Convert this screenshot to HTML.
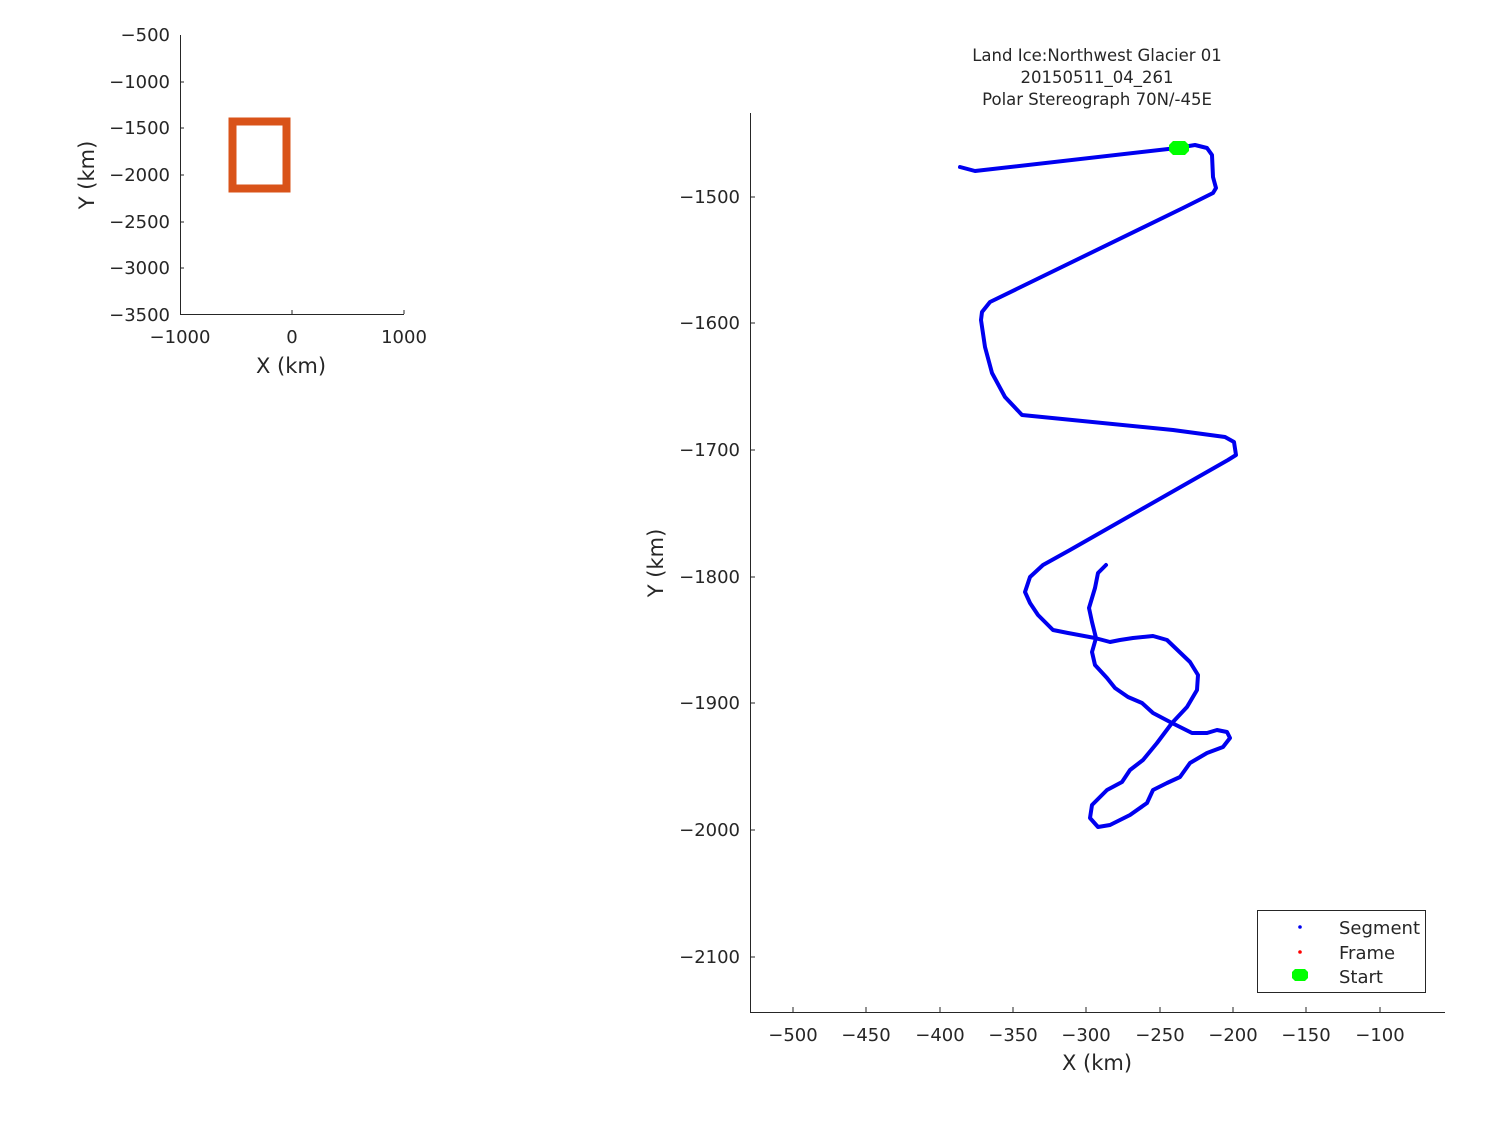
<!DOCTYPE html>
<html><head><meta charset="utf-8"><style>
body{margin:0;background:#fff}
svg text{font-family:"DejaVu Sans","Liberation Sans",sans-serif;fill:#262626}
</style></head><body>
<svg width="1500" height="1125" viewBox="0 0 1500 1125">
<rect width="1500" height="1125" fill="#fff"/>
<g stroke="#262626" stroke-width="1" fill="none">
<path d="M180.5 35V314.5H404"/>
<path d="M180 82h4M180 128h4M180 175h4M180 222h4M180 268h4M292 314v-4M404 314v-4"/>
</g>
<g font-size="18" text-anchor="end">
<text x="170" y="41">−500</text><text x="170" y="88">−1000</text><text x="170" y="134">−1500</text>
<text x="170" y="181">−2000</text><text x="170" y="228">−2500</text><text x="170" y="274">−3000</text><text x="170" y="321">−3500</text>
</g>
<g font-size="18" text-anchor="middle">
<text x="180" y="343">−1000</text><text x="292" y="343">0</text><text x="404" y="343">1000</text>
<text x="291" y="373" font-size="21">X (km)</text>
</g>
<text transform="translate(94,175) rotate(-90)" font-size="21" text-anchor="middle">Y (km)</text>
<rect x="232.5" y="121.5" width="54" height="67" fill="none" stroke="#D95319" stroke-width="8"/>
<g stroke="#262626" stroke-width="1" fill="none">
<path d="M750.5 113V1012.5H1445"/>
<path d="M750 197h5M750 323h5M750 450h5M750 577h5M750 703h5M750 830h5M750 957h5"/>
<path d="M793 1012v-5M866 1012v-5M940 1012v-5M1013 1012v-5M1086 1012v-5M1160 1012v-5M1233 1012v-5M1306 1012v-5M1380 1012v-5"/>
</g>
<g font-size="18" text-anchor="end">
<text x="740" y="203">−1500</text><text x="740" y="329">−1600</text><text x="740" y="456">−1700</text>
<text x="740" y="583">−1800</text><text x="740" y="709">−1900</text><text x="740" y="836">−2000</text><text x="740" y="963">−2100</text>
</g>
<g font-size="18" text-anchor="middle">
<text x="793" y="1041">−500</text><text x="866" y="1041">−450</text><text x="940" y="1041">−400</text>
<text x="1013" y="1041">−350</text><text x="1086" y="1041">−300</text><text x="1160" y="1041">−250</text>
<text x="1233" y="1041">−200</text><text x="1306" y="1041">−150</text><text x="1380" y="1041">−100</text>
<text x="1097" y="1070" font-size="21">X (km)</text>
</g>
<text transform="translate(663,563) rotate(-90)" font-size="21" text-anchor="middle">Y (km)</text>
<g font-size="16.5" text-anchor="middle">
<text x="1097" y="61">Land Ice:Northwest Glacier 01</text>
<text x="1097" y="83">20150511_04_261</text>
<text x="1097" y="105">Polar Stereograph 70N/-45E</text>
</g>
<path fill="none" stroke="#0000F0" stroke-width="4" stroke-linejoin="round" stroke-linecap="round" d="
M960 167 L975 171 L1177 148 L1195 145 L1207 148 L1212 155 L1213 177 L1216 188 L1213 193 L1183 208 L990 302 L982 312 L981 320 L985 347 L992 373 L1005 397 L1022 415 L1173 430 L1225 437 L1234 442 L1236 455 L1228 460 L1070 550 L1043 565 L1030 577 L1025 592 L1030 603 L1038 615 L1053 630 L1068 633 L1095 638 L1110 642 L1120 640 L1133 638 L1153 636 L1167 640 L1190 662 L1198 675 L1197 690 L1187 707 L1172 723 L1157 743 L1143 760 L1130 770 L1122 782 L1107 790 L1092 805 L1090 818 L1098 827 L1110 825 L1130 815 L1147 803 L1153 790 L1167 783 L1180 777 L1190 763 L1207 753 L1223 747 L1230 738 L1227 732 L1217 730 L1207 733 L1192 733 L1172 723 L1153 713 L1142 703 L1128 697 L1115 688 L1107 678 L1095 665 L1092 652 L1096 638 L1092 622 L1089 608 L1095 588 L1098 573 L1106 565"/>
<path d="M1173 141h12l4 4v6l-4 4h-12l-4-4v-6z" fill="#00FF00"/>
<rect x="1257.5" y="910.5" width="168" height="82" fill="#fff" stroke="#262626" stroke-width="1"/>
<circle cx="1300" cy="927" r="1.8" fill="#0000F0"/>
<circle cx="1300" cy="952" r="1.8" fill="#F00"/>
<path d="M1295 969h10l3 3v6l-3 3h-10l-3-3v-6z" fill="#00FF00"/>
<g font-size="18">
<text x="1339" y="934">Segment</text><text x="1339" y="959">Frame</text><text x="1339" y="983">Start</text>
</g>
</svg>
</body></html>
